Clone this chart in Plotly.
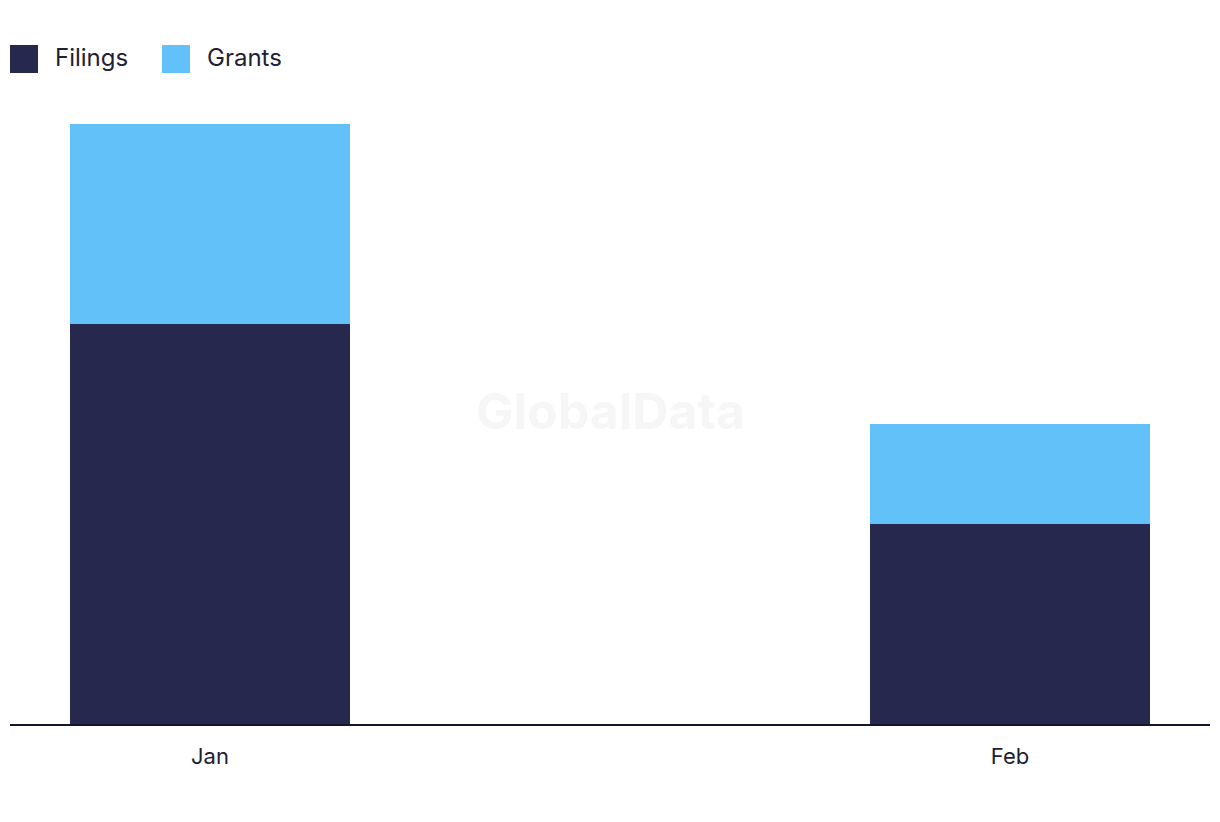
import plotly.graph_objects as go

categories = ["Jan", "Feb"]
filings = [4, 2]
grants = [2, 1]
series_names = ["Filings", "Grants"]
colors = ["#27284D", "#62C1F8"]

W, H = 1220, 822
L, R, T, B = 10, 10, 124, 98
pw, ph = W - L - R, H - T - B

fig = go.Figure()
fig.add_bar(x=categories, y=filings, name=series_names[0], marker_color=colors[0],
            marker_line_width=0, width=0.35, showlegend=False)
fig.add_bar(x=categories, y=grants, name=series_names[1], marker_color=colors[1],
            marker_line_width=0, width=0.35, showlegend=False)

def px_x(p):
    return (p - L) / pw

def px_y(p):
    return (H - B - p) / ph

shapes = []
annotations = []
legend_pos = [(10, 38, 53), (162, 190, 205)]
for (x0, x1, tx), name, col in zip(legend_pos, series_names, colors):
    shapes.append(dict(type="rect", xref="paper", yref="paper",
                       x0=px_x(x0), x1=px_x(x1), y0=px_y(73), y1=px_y(45),
                       fillcolor=col, line_width=0))
    annotations.append(dict(text=name, xref="paper", yref="paper",
                            x=px_x(tx), y=px_y(58), xanchor="left", yanchor="middle",
                            showarrow=False, font=dict(size=24, color="#1f2033", family="Inter")))

annotations.append(dict(text="<b>GlobalData</b>", xref="paper", yref="paper",
                        x=px_x(610), y=px_y(411), xanchor="center", yanchor="middle",
                        showarrow=False, font=dict(size=50, color="#f6f6f6", family="Inter")))

fig.update_layout(
    barmode="stack",
    width=W, height=H,
    margin=dict(l=L, r=R, t=T, b=B, pad=0),
    paper_bgcolor="white", plot_bgcolor="white",
    font=dict(family="Inter", color="#1f2033"),
    shapes=shapes, annotations=annotations,
    xaxis=dict(range=[-0.25, 1.25], showgrid=False, showline=True, linecolor="#14142a",
               linewidth=2, ticks="", tickfont=dict(size=22, color="#1f2033"), ticklabelstandoff=12),
    yaxis=dict(range=[0, 6], visible=False, showgrid=False, zeroline=False),
)

fig.write_html("out.html")
